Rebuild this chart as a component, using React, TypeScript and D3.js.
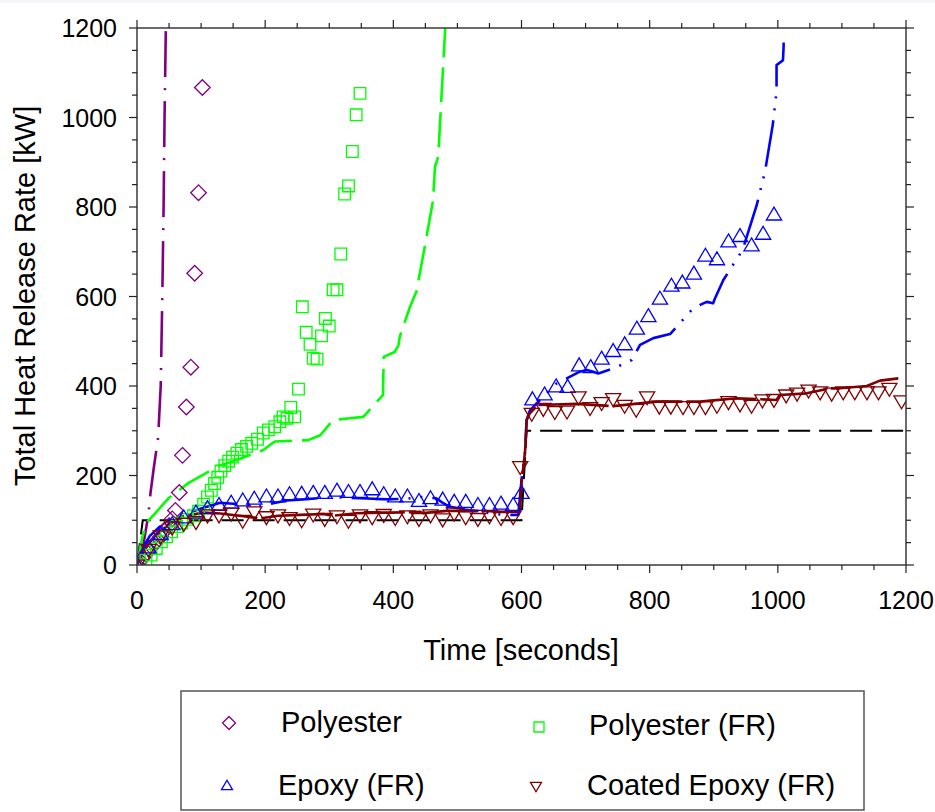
import React from 'react';
import * as d3 from 'd3';

// ---- axis ticks ----
const xTicks = [0, 200, 400, 600, 800, 1000, 1200];
const yTicks = [0, 200, 400, 600, 800, 1000, 1200];
const minorTicks = d3.range(0, 1201, 50);

// ---- series names ----
const seriesNames = ['Polyester', 'Polyester (FR)', 'Epoxy (FR)', 'Coated Epoxy (FR)'];

// ---- reference (burner) curve ----
const referenceLine = [[0, 0], [9, 100], [600, 100], [608, 300], [1200, 300]];

// ---- Polyester ----
const polyesterLine = [[0, 0], [10, 45], [18, 115], [21, 160], [26, 215], [33, 285], [37, 400], [39.5, 600], [41.5, 800], [43, 1000], [45, 1200]];
const polyesterMarkers = [[0, 0], [3, 5], [9, 16], [16, 28], [23, 40], [30, 52], [37, 63], [43, 76], [50, 88], [55, 103], [60, 122], [66, 162], [71, 245], [77, 353], [84, 442], [90, 652], [96, 832], [102, 1067]];

// ---- Polyester (FR) ----
const polyesterFRLine = [[0, 0], [8, 60], [15, 95], [28, 115], [49, 149], [80, 183], [116, 212], [127, 221], [148, 231], [197, 257], [215, 276], [267, 279], [286, 290], [306, 324], [332, 328], [353, 331], [384, 380], [384, 398], [385, 465], [402, 476], [408, 491], [410, 510], [426, 577], [436, 611], [449, 711], [462, 815], [465, 890], [470, 912], [481, 1200]];
const polyesterFRMarkers = [[5, 0], [14, 11], [22, 22], [30, 37], [38, 52], [46, 63], [54, 74], [62, 86], [70, 94], [79, 102], [88, 110], [96, 120], [104, 136], [110, 152], [116, 167], [121, 182], [126, 196], [131, 210], [137, 222], [143, 232], [149, 241], [156, 250], [163, 258], [171, 265], [179, 272], [188, 281], [197, 295], [205, 302], [215, 309], [223, 320], [228, 331], [234, 328], [240, 352], [246, 331], [252, 393], [258, 577], [264, 520], [270, 493], [275, 462], [281, 460], [288, 512], [294, 551], [300, 534], [306, 615], [312, 615], [318, 695], [324, 829], [330, 847], [336, 924], [342, 1006], [348, 1054]];

// ---- Epoxy (FR) ----
const epoxyLine = [[0, 0], [10, 40], [20, 65], [35, 85], [50, 100], [70, 112], [98, 125], [109, 130], [129.5, 139], [150, 137], [170, 134], [192, 132], [212.7, 138], [233.6, 144], [264.8, 147], [290, 150], [316.8, 151], [348, 149], [389.7, 147], [420, 148], [444, 152], [467, 149], [476, 140], [488, 130], [512, 124], [540, 118], [571.6, 112], [595, 112], [600, 190], [605.5, 252], [608, 324], [613, 345], [623.7, 361], [640, 385], [655, 406], [670.6, 417], [691, 432], [701.8, 436], [712, 432], [720, 428], [745, 440], [772, 458], [785, 492], [805.7, 507], [831.8, 516], [850, 545], [868, 574], [889, 588], [899, 585], [902, 596], [915, 637], [945, 704], [967, 804], [980, 879], [992, 983], [998, 1058], [998, 1117], [1008, 1128], [1009, 1158], [1009, 1182]];
const epoxyMarkers = [[0, 0], [18, 38], [37, 68], [55, 90], [73, 105], [92, 116], [110, 126], [128, 133], [147, 138], [165, 143], [183, 147], [202, 152], [220, 152], [238, 157], [257, 158], [275, 160], [293, 160], [312, 165], [330, 162], [348, 162], [367, 168], [385, 157], [403, 152], [422, 152], [440, 142], [458, 148], [477, 145], [495, 140], [513, 140], [532, 133], [550, 133], [568, 136], [587, 133], [600, 160], [617, 369], [636, 380], [654, 398], [672, 397], [690, 445], [708, 441], [725, 460], [743, 477], [761, 492], [780, 527], [798, 555], [816, 594], [834, 623], [851, 630], [869, 650], [887, 690], [905, 682], [923, 722], [941, 734], [959, 713], [977, 739], [994, 782]];

// ---- Coated Epoxy (FR) ----
const coatedLine = [[0, 0], [10, 30], [25, 60], [40, 80], [55, 95], [67, 108], [85, 112], [103.5, 117], [130, 115], [160, 110], [192, 104], [220, 110], [254, 112], [290.7, 114], [306, 110], [342.8, 115.5], [384, 117], [394.8, 117], [441.6, 119], [446.8, 116], [483.3, 121], [530, 121], [571.6, 119], [592.5, 119], [597.7, 123], [600, 183], [605.5, 253], [608, 324], [613, 339], [626, 357.5], [686, 360], [743, 355], [811, 365], [878.6, 365], [935.8, 372.5], [998, 368.7], [1003, 380], [1045, 383.6], [1081, 394.8], [1097, 394.8], [1138.7, 400], [1159.5, 412], [1188, 417]];
const coatedMarkers = [[0, 0], [18, 35], [37, 65], [55, 85], [73, 93], [92, 97], [110, 112], [128, 112], [147, 116], [165, 100], [183, 119], [202, 108], [220, 112], [238, 106], [257, 101], [275, 114], [293, 104], [312, 110], [330, 100], [348, 112], [367, 108], [385, 113], [403, 106], [422, 110], [440, 104], [458, 112], [477, 103], [495, 116], [513, 108], [532, 104], [550, 110], [568, 106], [587, 108], [598, 220], [616, 339], [634, 350], [652, 343], [671, 344], [689, 376], [707, 352], [725, 363], [743, 372], [761, 357], [779, 348], [796, 376], [815, 355], [833, 355], [852, 354], [869, 354], [887, 354], [905, 357], [923, 365], [941, 360], [959, 357], [976, 369], [994, 370], [1013, 380], [1030, 384], [1048, 391], [1066, 387], [1084, 384], [1102, 387], [1120, 387], [1139, 387], [1157, 387], [1174, 395], [1193, 367]];

const FONT = '"Liberation Sans", Arial, Helvetica, sans-serif';

function markerPath(kind: string, s: number): string {
  if (kind === 'diamond') return `M0,${-s}L${s},0L0,${s}L${-s},0Z`;
  if (kind === 'square') return `M${-s},${-s}H${s}V${s}H${-s}Z`;
  if (kind === 'up') return `M0,${-s * 1.05}L${s},${s * 0.65}L${-s},${s * 0.65}Z`;
  return `M0,${s * 1.05}L${s},${-s * 0.65}L${-s},${-s * 0.65}Z`;
}

export default function App() {
  const left = 137, right = 906, top = 28, bottom = 565;
  const x = d3.scaleLinear().domain([0, 1200]).range([left, right]);
  const y = d3.scaleLinear().domain([0, 1200]).range([bottom, top]);
  const line = d3.line<number[]>().x(d => x(d[0])).y(d => y(d[1]));

  const series = [
    { name: seriesNames[0], color: '#800080', line: polyesterLine, markers: polyesterMarkers, kind: 'diamond', size: 7.8, dash: '46 11 2 11', lsize: 6.5, lx: 229, ly: 723, tx: 281, ty: 732 },
    { name: seriesNames[1], color: '#00ff00', line: polyesterFRLine, markers: polyesterFRMarkers, kind: 'square', size: 5.8, dash: '35 10', lsize: 5, lx: 539, ly: 727, tx: 589, ty: 735 },
    { name: seriesNames[2], color: '#0000ff', line: epoxyLine, markers: epoxyMarkers, kind: 'up', size: 7.6, dash: '47 10 2 10 2 10', lsize: 5.5, lx: 227, ly: 786, tx: 278, ty: 795 },
    { name: seriesNames[3], color: '#800000', line: coatedLine, markers: coatedMarkers, kind: 'down', size: 7.6, dash: '70 4', lsize: 5.5, lx: 536, ly: 786, tx: 587, ty: 795 },
  ];

  const axisColor = '#3a3a3a';

  return (
    <div style={{ position: 'absolute', left: 0, top: 0 }}>
      <svg width={935} height={812} style={{ display: 'block', background: '#fff' }}>
        <defs>
          <clipPath id="plotClip">
            <rect x={left} y={top} width={right - left} height={bottom - top} />
          </clipPath>
        </defs>
        <rect x={0} y={0} width={935} height={3} fill="#f3f5f8" />

        {/* reference line */}
        <g clipPath="url(#plotClip)">
          <path d={line(referenceLine as any) || ''} fill="none" stroke="#000" strokeWidth={2} strokeDasharray="22 9" />
          {series.map(s => (
            <path key={s.name} d={line(s.line as any) || ''} fill="none" stroke={s.color} strokeWidth={2.6} strokeDasharray={s.dash} strokeLinejoin="round" />
          ))}
          {series.map(s => (
            <g key={s.name + 'm'}>
              {s.markers.map((p, i) => (
                <path key={i} transform={`translate(${x(p[0])},${y(p[1])})`} d={markerPath(s.kind, s.size)} fill="none" stroke={s.color} strokeWidth={1.3} />
              ))}
            </g>
          ))}
        </g>

        {/* axes frame */}
        <g stroke={axisColor} strokeWidth={1.5}>
          <line x1={left} y1={top} x2={left} y2={bottom} />
          <line x1={right} y1={top} x2={right} y2={bottom} />
          <line x1={left} y1={top} x2={right} y2={top} />
          <line x1={left} y1={bottom} x2={right} y2={bottom} />
        </g>
        <g stroke="#222" strokeWidth={1.2}>
          {minorTicks.map(t => {
            const major = t % 200 === 0;
            const len = major ? 8 : 5;
            return (
              <g key={t}>
                <line x1={x(t)} y1={bottom} x2={x(t)} y2={bottom + len} />
                <line x1={x(t)} y1={top} x2={x(t)} y2={top - len} />
                <line x1={left} y1={y(t)} x2={left - len} y2={y(t)} />
                <line x1={right} y1={y(t)} x2={right + len} y2={y(t)} />
              </g>
            );
          })}
        </g>
        <g fontFamily={FONT} fontSize={25} fill="#000">
          {xTicks.map(t => (
            <text key={'x' + t} x={x(t)} y={609} textAnchor="middle">{t}</text>
          ))}
          {yTicks.map(t => (
            <text key={'y' + t} x={117} y={y(t) + 9} textAnchor="end">{t}</text>
          ))}
        </g>
        <text x={521} y={660} textAnchor="middle" fontFamily={FONT} fontSize={29} fill="#000">Time [seconds]</text>
        <text transform="translate(35,296) rotate(-90)" textAnchor="middle" fontFamily={FONT} fontSize={29} fill="#000">Total Heat Release Rate [kW]</text>

        {/* legend */}
        <rect x={181} y={691} width={683} height={119} fill="#fff" stroke="#555" strokeWidth={1.5} />
        {series.map(s => (
          <g key={s.name + 'l'}>
            <path transform={`translate(${s.lx},${s.ly})`} d={markerPath(s.kind, s.lsize)} fill="none" stroke={s.color} strokeWidth={1.3} />
            <text x={s.tx} y={s.ty} fontFamily={FONT} fontSize={29} fill="#000">{s.name}</text>
          </g>
        ))}
      </svg>
    </div>
  );
}
